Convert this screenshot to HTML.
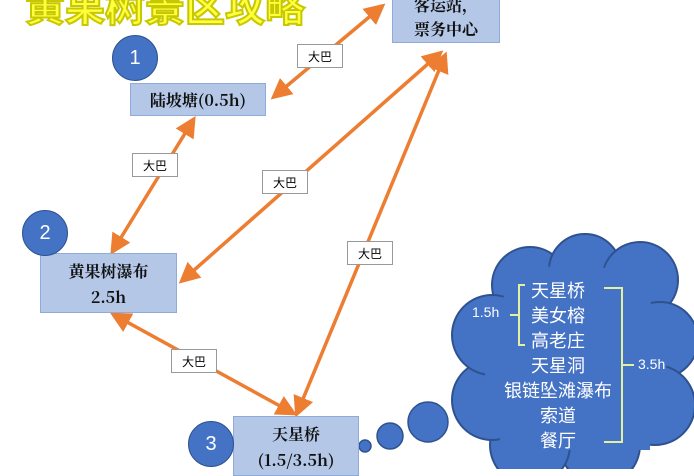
<!DOCTYPE html>
<html><head><meta charset="utf-8"><style>
body{margin:0;width:694px;height:469px;overflow:hidden;background:#fff;position:relative;font-family:"Liberation Sans","Noto Sans CJK SC",sans-serif}
.box{position:absolute;background:#b4c7e7;border:1px solid #8faadc;box-sizing:border-box;text-align:center;font-family:"Noto Serif CJK SC","Noto Sans CJK SC",serif;font-weight:bold;color:#111;font-size:16px}
.c{position:absolute;border-radius:50%;background:#4472c4;border:1px solid #2f528f;color:#fff;text-align:center;font-size:20px}
.lb{position:absolute;background:#fff;border:1px solid #999;font-size:12px;text-align:center;line-height:24px;width:46px;height:24px;box-sizing:border-box}
</style></head><body>
<svg width="694" height="469" style="position:absolute;left:0;top:0">
<defs><marker id="a" markerWidth="6" markerHeight="6" refX="4" refY="3" orient="auto-start-reverse" markerUnits="strokeWidth"><path d="M0,0L6,3L0,6z" fill="#ed7d31"/></marker></defs>
<g stroke="#ed7d31" stroke-width="3.5" marker-start="url(#a)" marker-end="url(#a)">
<line x1="380" y1="8" x2="276" y2="95"/>
<line x1="192" y1="122" x2="114" y2="249"/>
<line x1="438" y1="55" x2="184" y2="279"/>
<line x1="444" y1="58" x2="298" y2="411"/>
<line x1="116" y1="316" x2="291" y2="412"/>
</g>
<g fill="#4472c4" stroke="#2f528f" stroke-width="1.5">
<circle cx="365" cy="446" r="6"/><circle cx="390" cy="436" r="13"/><circle cx="428" cy="422" r="20"/>
</g>
<g fill="#4472c4" stroke="#2f528f" stroke-width="2">
<circle cx="530" cy="285" r="38"/><circle cx="585" cy="270" r="36"/><circle cx="640" cy="280" r="38"/>
<circle cx="660" cy="340" r="38"/><circle cx="655" cy="405" r="40"/><circle cx="600" cy="445" r="40"/>
<circle cx="530" cy="445" r="40"/><circle cx="492" cy="400" r="40"/><circle cx="492" cy="335" r="40"/>
</g>
<g fill="#4472c4"><rect x="500" y="300" width="150" height="150"/><circle cx="575" cy="355" r="92"/></g>
<g fill="none" stroke="#e2f0a0" stroke-width="2">
<path d="M525,285H519V345H525M519,315H510"/>
<path d="M604,288H622V442H604M622,365H634"/>
</g>
</svg>
<div style="position:absolute;left:25px;top:-16px;font-size:40px;font-weight:bold;color:#ffff40;-webkit-text-stroke:2px #c8c800;font-family:'Noto Sans CJK SC',sans-serif;line-height:40px">黄果树景区攻略</div>
<div class="box" style="left:392px;top:-10px;width:108px;height:53px;line-height:24px;padding-top:2px">客运站，<br>票务中心</div>
<div class="box" style="left:130px;top:83px;width:136px;height:33px;line-height:32px">陆坡塘(0.5h)</div>
<div class="box" style="left:40px;top:253px;width:137px;height:60px;line-height:26px;padding-top:4px">黄果树瀑布<br>2.5h</div>
<div class="box" style="left:233px;top:416px;width:126px;height:60px;line-height:26px;padding-top:4px">天星桥<br>(1.5/3.5h)</div>
<div class="c" style="left:112px;top:35px;width:44px;height:44px;line-height:44px">1</div>
<div class="c" style="left:22px;top:210px;width:44px;height:44px;line-height:44px">2</div>
<div class="c" style="left:188px;top:421px;width:44px;height:44px;line-height:44px">3</div>
<div class="lb" style="left:297px;top:44px">大巴</div>
<div class="lb" style="left:132px;top:153px">大巴</div>
<div class="lb" style="left:262px;top:170px">大巴</div>
<div class="lb" style="left:347px;top:241px">大巴</div>
<div class="lb" style="left:171px;top:349px">大巴</div>
<div style="position:absolute;left:490px;top:278px;width:136px;text-align:center;color:#fff;font-size:18px;line-height:25px;font-family:'Noto Sans CJK SC',sans-serif">天星桥<br>美女榕<br>高老庄<br>天星洞<br>银链坠滩瀑布<br>索道<br>餐厅</div>
<div style="position:absolute;left:472px;top:304px;color:#fff;font-size:14px">1.5h</div>
<div style="position:absolute;left:638px;top:356px;color:#fff;font-size:14px">3.5h</div>
</body></html>
